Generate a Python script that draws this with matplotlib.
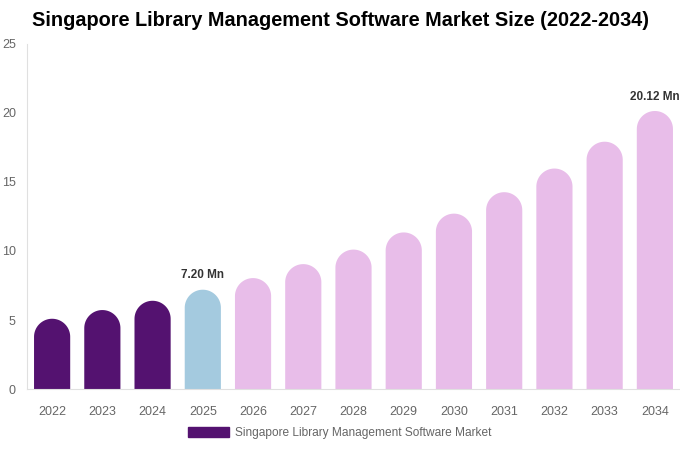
import numpy as np
import matplotlib
matplotlib.use("Agg")
import matplotlib.pyplot as plt
from matplotlib.patches import Rectangle, Polygon

plt.rcParams['font.family'] = ['Liberation Sans', 'DejaVu Sans']

years = ["2022", "2023", "2024", "2025", "2026", "2027", "2028",
         "2029", "2030", "2031", "2032", "2033", "2034"]
values = [5.10, 5.73, 6.40, 7.20, 8.04, 9.05, 10.10,
          11.34, 12.70, 14.25, 15.96, 17.90, 20.12]
bar_colors = ["#541270"] * 3 + ["#a4cadf"] + ["#e8bde9"] * 9
labels = {3: "7.20 Mn", 12: "20.12 Mn"}
legend_name = "Singapore Library Management Software Market"
title = "Singapore Library Management Software Market Size (2022-2034)"

W, H = 680, 450
fig = plt.figure(figsize=(W / 100, H / 100), dpi=100)

# axes box in pixels
ax_l, ax_r, ax_t, ax_b = 27, 680, 43.5, 389.3
ax = fig.add_axes([ax_l / W, (H - ax_b) / H, (ax_r - ax_l) / W, (ax_b - ax_t) / H])

ymax = 25
ax.set_xlim(-0.5, len(years) - 0.5)
ax.set_ylim(0, ymax)

bar_w = 0.72
# radius of the rounded top, x data units -> y data units
px_per_x = (ax_r - ax_l) / len(years)
px_per_y = (ax_b - ax_t) / ymax
r_x = bar_w / 2
r_y = r_x * px_per_x / px_per_y
theta = np.linspace(0, np.pi, 60)

for i, (v, c) in enumerate(zip(values, bar_colors)):
    cap = np.column_stack([i + r_x * np.cos(theta), v - r_y + r_y * np.sin(theta)])
    pts = np.vstack([[i + r_x, 0], cap, [i - r_x, 0]])
    ax.add_patch(Polygon(pts, closed=True, facecolor=c, edgecolor="none"))
    if i in labels:
        ax.text(i, v + 0.6, labels[i], ha="center", va="bottom",
                fontsize=8.5, fontweight="bold", color="#333333")

ax.set_xticks(range(len(years)))
ax.set_xticklabels(years)
ax.set_yticks(range(0, 26, 5))
ax.tick_params(axis="both", length=0, labelsize=9, labelcolor="#666666")
ax.tick_params(axis="x", pad=12)
ax.tick_params(axis="y", pad=8)

for s in ["top", "right"]:
    ax.spines[s].set_visible(False)
ax.spines["left"].set_color("#e0e0e0")
ax.spines["bottom"].set_color("#e0e0e0")

fig.text(340 / W, 1 - 21 / H, title, ha="center", va="center",
         fontsize=14.3, fontweight="bold", color="#000000")

handle = Rectangle((0, 0), 1, 1, color=bar_colors[0])
fig.legend([handle], [legend_name], loc="center", bbox_to_anchor=(340 / W, 1 - 433 / H),
           frameon=False, fontsize=8.6, labelcolor="#666666",
           handlelength=3.4, handleheight=0.9, handletextpad=0.5)

fig.savefig("out.png", dpi=100)
